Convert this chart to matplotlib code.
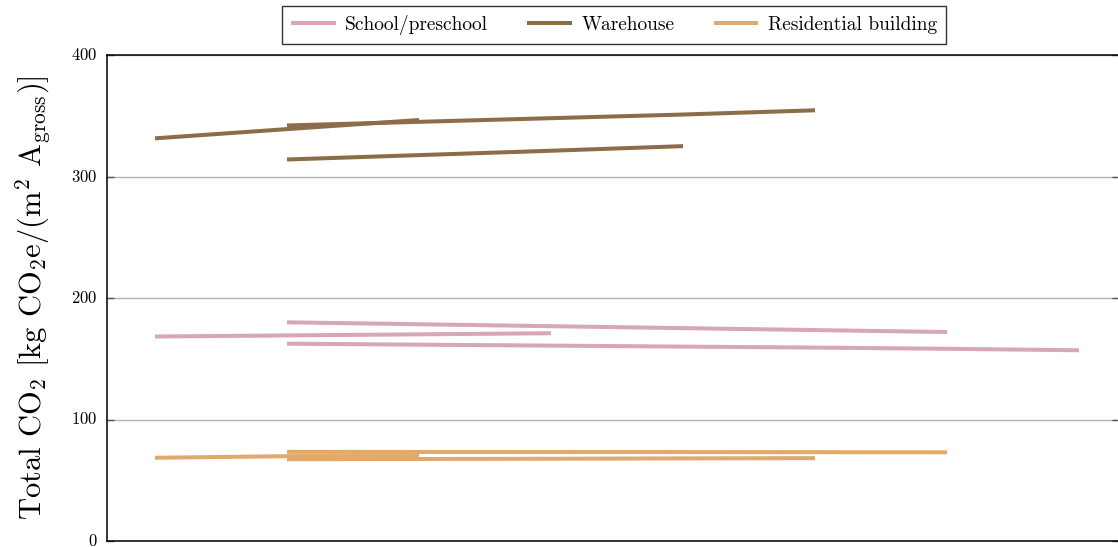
import matplotlib
matplotlib.use("Agg")
import matplotlib.pyplot as plt

plt.rcParams["font.family"] = "serif"
plt.rcParams["font.serif"] = ["cmr10", "DejaVu Serif"]
plt.rcParams["mathtext.fontset"] = "cm"
plt.rcParams["axes.formatter.use_mathtext"] = True

# Scenario steps (x positions) and emission trajectories per building type
school_x = [[0, 1, 2, 3], [1, 2, 3, 4, 5, 6], [1, 2, 3, 4, 5, 6, 7]]
school_y = [[168.3, 169.2, 170.1, 171.0],
            [180.0, 178.4, 176.8, 175.2, 173.6, 172.0],
            [162.4, 161.6, 160.8, 160.0, 159.2, 158.2, 157.0]]

warehouse_x = [[0, 1, 2], [1, 2, 3, 4, 5], [1, 2, 3, 4]]
warehouse_y = [[331.4, 339.0, 346.5],
               [342.0, 345.0, 348.0, 351.0, 354.5],
               [314.0, 317.6, 321.2, 325.0]]

residential_x = [[0, 1, 2], [1, 2, 3, 4, 5, 6], [1, 2, 3, 4, 5]]
residential_y = [[68.5, 69.8, 70.6],
                 [73.4, 73.3, 73.3, 73.2, 73.1, 73.0],
                 [67.3, 67.5, 67.7, 68.0, 68.2]]

series_names = ["School/preschool", "Warehouse", "Residential building"]
series_colors = ["#d6a6ba", "#8c6c49", "#e1a96b"]

fig = plt.figure(figsize=(11.18, 5.47), dpi=100)
W, H = 1118, 547
ax = fig.add_axes([107 / W, (H - 541) / H, (1119 - 107) / W, (541 - 55) / H])

groups = [(school_x, school_y), (warehouse_x, warehouse_y), (residential_x, residential_y)]
for (xs, ys), name, col in zip(groups, series_names, series_colors):
    for i, (x, y) in enumerate(zip(xs, ys)):
        ax.plot(x, y, color=col, lw=2.9, solid_capstyle="butt",
                label=name if i == 0 else None, zorder=3)

ax.set_xlim((107 - 155) / 132, (1119 - 155) / 132)
ax.set_ylim(0, 400)
ax.set_yticks([0, 100, 200, 300, 400])
ax.set_xticks([])
ax.grid(axis="y", color="#b4b4b4", lw=1.0, zorder=0)
ax.tick_params(axis="y", direction="in", length=5, width=1.0, color="#555555",
               labelsize=12, pad=7, right=True)
for lbl in ax.get_yticklabels():
    lbl.set_verticalalignment("center")
for s in ax.spines.values():
    s.set_linewidth(1.1)
    s.set_color("black")

ax.set_ylabel(r"Total CO$_2$ [kg CO$_2$e/(m$^2$ A$_{\mathrm{gross}}$)]",
              fontsize=22)
ax.yaxis.set_label_coords(-0.053, 0.5)

leg = fig.legend(loc="center", bbox_to_anchor=(614 / W, 1 - 25 / H), ncol=3,
                 fontsize=14, frameon=True, fancybox=False, edgecolor="black",
                 handlelength=2.3, columnspacing=2.0, handletextpad=0.5,
                 borderpad=0.45)
leg.get_frame().set_linewidth(1.0)

fig.savefig("out.png", dpi=100)
